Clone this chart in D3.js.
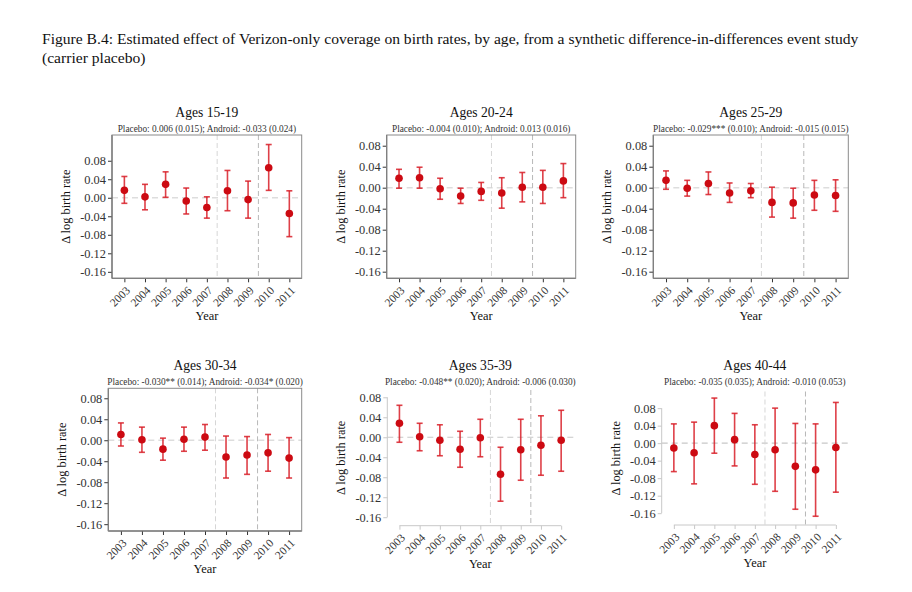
<!DOCTYPE html>
<html>
<head>
  <meta charset="utf-8">
  <script src="https://d3js.org/d3.v7.min.js"></script>
</head>
<style>
  body { margin: 0; background: #fff; }
  text { font-family: "Liberation Serif", "Times New Roman", serif; }
  .tick text { fill: #333; }
</style>
<body>
  <svg id="svg_fig"></svg>
</body>
<script>
  var w = 912;
  var h = 592;

  // data
  var years = [2003, 2004, 2005, 2006, 2007, 2008, 2009, 2010, 2011];
  var ageGroups = ["Ages 15-19", "Ages 20-24", "Ages 25-29", "Ages 30-34", "Ages 35-39", "Ages 40-44"];
  var notes = [
    "Placebo: 0.006 (0.015); Android: -0.033 (0.024)",
    "Placebo: -0.004 (0.010); Android: 0.013 (0.016)",
    "Placebo: -0.029*** (0.010); Android: -0.015 (0.015)",
    "Placebo: -0.030** (0.014); Android: -0.034* (0.020)",
    "Placebo: -0.048** (0.020); Android: -0.006 (0.030)",
    "Placebo: -0.035 (0.035); Android: -0.010 (0.053)"
  ];
  var yTicks = [0.08, 0.04, 0, -0.04, -0.08, -0.12, -0.16];

  var est1519 = [0.016, 0.002, 0.029, -0.007, -0.021, 0.015, -0.004, 0.065, -0.034];
  var lo1519  = [-0.012, -0.026, 0.001, -0.035, -0.044, -0.028, -0.044, 0.016, -0.084];
  var hi1519  = [0.046, 0.029, 0.056, 0.021, 0.002, 0.059, 0.036, 0.115, 0.015];

  var est2024 = [0.018, 0.019, -0.002, -0.016, -0.007, -0.010, 0.001, 0.001, 0.013];
  var lo2024  = [-0.001, -0.001, -0.022, -0.030, -0.024, -0.039, -0.027, -0.030, -0.019];
  var hi2024  = [0.035, 0.039, 0.018, -0.001, 0.010, 0.019, 0.029, 0.033, 0.046];

  var est2529 = [0.014, -0.001, 0.008, -0.010, -0.006, -0.028, -0.029, -0.014, -0.015];
  var lo2529  = [-0.003, -0.016, -0.013, -0.028, -0.019, -0.056, -0.058, -0.043, -0.045];
  var hi2529  = [0.032, 0.014, 0.030, 0.009, 0.008, 0.001, -0.001, 0.014, 0.015];

  var est3034 = [0.011, 0.001, -0.017, 0.002, 0.006, -0.032, -0.028, -0.024, -0.034];
  var lo3034  = [-0.011, -0.023, -0.038, -0.021, -0.019, -0.072, -0.065, -0.059, -0.072];
  var hi3034  = [0.033, 0.025, 0.004, 0.025, 0.030, 0.008, 0.007, 0.011, 0.005];

  var est3539 = [0.028, 0.001, -0.006, -0.024, -0.001, -0.074, -0.025, -0.016, -0.006];
  var lo3539  = [-0.010, -0.027, -0.037, -0.060, -0.039, -0.128, -0.086, -0.076, -0.068];
  var hi3539  = [0.064, 0.028, 0.025, 0.012, 0.036, -0.020, 0.036, 0.043, 0.054];

  var est4044 = [-0.011, -0.022, 0.040, 0.008, -0.026, -0.015, -0.053, -0.061, -0.010];
  var lo4044  = [-0.065, -0.093, -0.023, -0.052, -0.094, -0.110, -0.151, -0.167, -0.112];
  var hi4044  = [0.044, 0.048, 0.103, 0.068, 0.042, 0.080, 0.045, 0.044, 0.093];

  var estimates = [est1519, est2024, est2529, est3034, est3539, est4044];
  var lowers = [lo1519, lo2024, lo2529, lo3034, lo3539, lo4044];
  var uppers = [hi1519, hi2024, hi2529, hi3034, hi3539, hi4044];

  // panel geometry (plot area in px, y domain)
  var panels = [
    {x0: 112, x1: 301.7, y0: 135, y1: 278.3, ymin: -0.174, ymax: 0.1356, boxed: true,  top: 117},
    {x0: 386.7, x1: 575.7, y0: 135, y1: 278.3, ymin: -0.1726, ymax: 0.1004, boxed: true,  top: 117},
    {x0: 653.3, x1: 848.3, y0: 135, y1: 278.3, ymin: -0.1726, ymax: 0.1004, boxed: true,  top: 117},
    {x0: 108.3, x1: 301.7, y0: 388.3, y1: 531, ymin: -0.173, ymax: 0.099, boxed: true,  top: 370},
    {x0: 387.3, x1: 573.3, y0: 390, y1: 525.7, ymin: -0.177, ymax: 0.0946, boxed: false, top: 370},
    {x0: 661.7, x1: 848, y0: 391.5, y1: 525, ymin: -0.187, ymax: 0.118, boxed: false, top: 370}
  ];

  var fmt = function(d){ return d3.format(".2f")(d).replace("\u2212", "-"); };

  var svg = d3.select("svg#svg_fig")
      .attr("width", w)
      .attr("height", h);

  svg.append("text")
      .attr("x", 42).attr("y", 44)
      .style("font-size", "15.6px")
      .attr("fill", "#111")
      .text("Figure B.4: Estimated effect of Verizon-only coverage on birth rates, by age, from a synthetic difference-in-differences event study");
  svg.append("text")
      .attr("x", 42).attr("y", 63)
      .style("font-size", "15.6px")
      .attr("fill", "#111")
      .text("(carrier placebo)");

  panels.forEach(function(p, i){
    var xScale = d3.scalePoint()
        .domain(years)
        .range([p.x0, p.x1])
        .padding(0.6);
    var yScale = d3.scaleLinear()
        .domain([p.ymin, p.ymax])
        .range([p.y1, p.y0]);

    var g = svg.append("g");
    var xc = (p.x0 + p.x1) / 2;

    g.append("text")
        .attr("x", xc).attr("y", p.top)
        .attr("text-anchor", "middle")
        .style("font-size", "13.6px")
        .attr("fill", "#111")
        .text(ageGroups[i]);
    g.append("text")
        .attr("x", xc).attr("y", p.top + 15)
        .attr("text-anchor", "middle")
        .style("font-size", "9.3px")
        .attr("fill", "#333")
        .text(notes[i]);

    // reference lines
    g.append("line")
        .attr("x1", p.x0).attr("x2", p.x1)
        .attr("y1", yScale(0)).attr("y2", yScale(0))
        .attr("stroke", p.boxed ? "#dddddd" : "#c8c8c8")
        .attr("stroke-width", p.boxed ? 1.6 : 1.1)
        .attr("stroke-dasharray", "6,4");
    [[2007, 2008, "#d6d6d6"], [2009, 2010, "#b8b8b8"]].forEach(function(v){
      var xv = (xScale(v[0]) + xScale(v[1])) / 2;
      g.append("line")
          .attr("x1", xv).attr("x2", xv)
          .attr("y1", p.y0).attr("y2", p.y1)
          .attr("stroke", v[2])
          .attr("stroke-width", 1)
          .attr("stroke-dasharray", "5,3");
    });

    // axes
    var yAxis = d3.axisLeft(yScale).tickValues(yTicks).tickFormat(fmt).tickSizeOuter(0).tickSize(4);
    var xAxis = d3.axisBottom(xScale).tickSizeOuter(0).tickSize(4);

    var ya = g.append("g")
        .attr("transform", "translate(" + p.x0 + ",0)")
        .call(yAxis);
    var xa = g.append("g")
        .attr("transform", "translate(0," + p.y1 + ")")
        .call(xAxis);

    if(p.boxed){
      g.append("rect")
          .attr("x", p.x0).attr("y", p.y0)
          .attr("width", p.x1 - p.x0).attr("height", p.y1 - p.y0)
          .attr("fill", "none")
          .attr("stroke", "#8a8a8a")
          .attr("stroke-width", 1);
      ya.select(".domain").attr("stroke", "#333").attr("d", "M0," + p.y0 + "V" + p.y1);
      xa.select(".domain").attr("stroke", "#333").attr("d", "M" + p.x0 + ",0H" + p.x1);
      ya.selectAll(".tick line").attr("stroke", "#333");
      xa.selectAll(".tick line").attr("stroke", "#333");
    } else {
      ya.select(".domain").attr("stroke", "#c8c8c8")
          .attr("d", "M0," + yScale(yTicks[0]) + "V" + yScale(yTicks[yTicks.length - 1]));
      xa.select(".domain").attr("stroke", "#c8c8c8")
          .attr("d", "M" + xScale(years[0]) + ",0H" + xScale(years[years.length - 1]));
      ya.selectAll(".tick line").attr("stroke", "#c8c8c8");
      xa.selectAll(".tick line").attr("stroke", "#c8c8c8");
    }

    ya.selectAll("text")
        .style("font-family", "Liberation Serif")
        .style("font-size", "12.4px")
        .attr("x", -6);
    xa.selectAll("text")
        .style("font-family", "Liberation Serif")
        .style("font-size", "11.4px")
        .style("text-anchor", "end")
        .attr("x", 0).attr("y", 0)
        .attr("dy", "0.35em")
        .attr("transform", "translate(3,10) rotate(-45)");

    // axis titles
    g.append("text")
        .attr("transform", "translate(" + (p.x0 - 42) + "," + ((p.y0 + p.y1) / 2) + ") rotate(-90)")
        .attr("text-anchor", "middle")
        .style("font-size", "12.4px")
        .attr("fill", "#111")
        .text("\u0394 log birth rate");
    g.append("text")
        .attr("x", xc).attr("y", p.y1 + 42)
        .attr("text-anchor", "middle")
        .style("font-size", "12.4px")
        .attr("fill", "#111")
        .text("Year");

    // error bars and points
    var rows = years.map(function(yr, j){
      return {year: yr, est: estimates[i][j], lo: lowers[i][j], hi: uppers[i][j]};
    });
    var bars = g.selectAll(".ci")
        .data(rows)
        .enter().append("g")
        .attr("class", "ci")
        .attr("stroke", "#d81e28")
        .attr("stroke-opacity", 0.85)
        .attr("stroke-width", 1.6);
    bars.append("line")
        .attr("x1", function(d){ return xScale(d.year); })
        .attr("x2", function(d){ return xScale(d.year); })
        .attr("y1", function(d){ return yScale(d.lo); })
        .attr("y2", function(d){ return yScale(d.hi); });
    bars.append("line")
        .attr("x1", function(d){ return xScale(d.year) - 3; })
        .attr("x2", function(d){ return xScale(d.year) + 3; })
        .attr("y1", function(d){ return yScale(d.lo); })
        .attr("y2", function(d){ return yScale(d.lo); });
    bars.append("line")
        .attr("x1", function(d){ return xScale(d.year) - 3; })
        .attr("x2", function(d){ return xScale(d.year) + 3; })
        .attr("y1", function(d){ return yScale(d.hi); })
        .attr("y2", function(d){ return yScale(d.hi); });
    g.selectAll(".pt")
        .data(rows)
        .enter().append("circle")
        .attr("class", "pt")
        .attr("cx", function(d){ return xScale(d.year); })
        .attr("cy", function(d){ return yScale(d.est); })
        .attr("r", 3.8)
        .attr("fill", "#cc0a12");
  });
</script>
</html>
